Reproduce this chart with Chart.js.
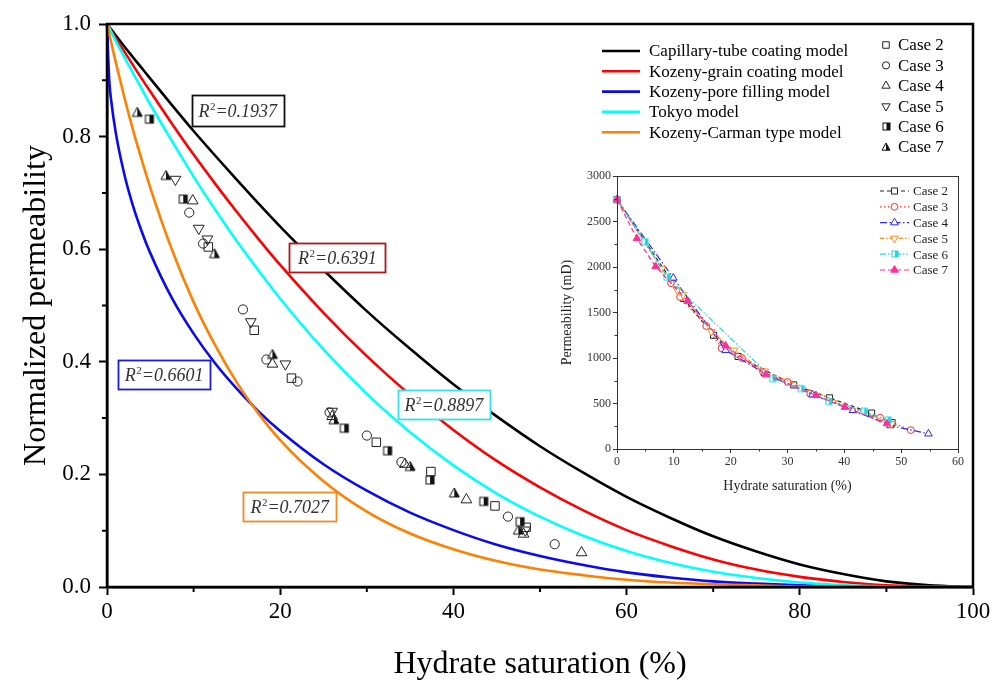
<!DOCTYPE html>
<html lang="en">
<head>
<meta charset="utf-8">
<title>Normalized permeability vs hydrate saturation</title>
<script src="https://cdn.jsdelivr.net/npm/chart.js@4.4.1/dist/chart.umd.min.js"></script>
<style>
  html, body { margin: 0; padding: 0; background: #fff; }
  #stage { position: relative; width: 1003px; height: 686px; overflow: hidden; background: #fff; }
  #mainChart { position: absolute; left: 0; top: 0; }
  #insetChart { position: absolute; left: 540px; top: 160px; }
</style>
</head>
<body>
<div id="stage">
  <canvas id="mainChart" width="1003" height="686"></canvas>
  <canvas id="insetChart" width="430" height="340"></canvas>
</div>
<script>
// ---------------- model curves (normalized permeability vs hydrate saturation, %) ----------------
const satGrid       = [0, 0.25, 0.5, 1, 2, 3, 4, 5, 7.5, 10, 12.5, 15, 17.5, 20, 25, 30, 35, 40, 45, 50, 55, 60, 65, 70, 75, 80, 85, 90, 95, 100];
const capillaryTube = [1, 0.995, 0.990, 0.980, 0.960, 0.941, 0.922, 0.903, 0.856, 0.810, 0.766, 0.723, 0.681, 0.640, 0.563, 0.490, 0.423, 0.360, 0.303, 0.250, 0.203, 0.160, 0.123, 0.090, 0.063, 0.040, 0.023, 0.010, 0.003, 0];
const kozenyGrain   = [1, 0.994, 0.988, 0.975, 0.951, 0.927, 0.903, 0.880, 0.823, 0.768, 0.716, 0.666, 0.618, 0.572, 0.487, 0.410, 0.341, 0.279, 0.224, 0.177, 0.136, 0.101, 0.073, 0.049, 0.031, 0.018, 0.009, 0.003, 0.001, 0];
const kozenyPore    = [1, 0.902, 0.862, 0.808, 0.733, 0.677, 0.632, 0.593, 0.513, 0.450, 0.397, 0.352, 0.312, 0.277, 0.218, 0.171, 0.132, 0.101, 0.075, 0.055, 0.039, 0.026, 0.017, 0.010, 0.006, 0.003, 0.001, 0.000, 0, 0];
const tokyo         = [1, 0.993, 0.985, 0.970, 0.941, 0.913, 0.885, 0.857, 0.792, 0.729, 0.670, 0.614, 0.562, 0.512, 0.422, 0.343, 0.275, 0.216, 0.166, 0.125, 0.091, 0.064, 0.043, 0.027, 0.016, 0.008, 0.003, 0.001, 0.000, 0];
const kozenyCarman  = [1, 0.983, 0.966, 0.933, 0.870, 0.812, 0.759, 0.709, 0.599, 0.506, 0.429, 0.363, 0.308, 0.261, 0.188, 0.134, 0.095, 0.067, 0.046, 0.031, 0.021, 0.013, 0.008, 0.005, 0.003, 0.001, 0.001, 0.000, 0, 0];
const modelNames = ['Capillary-tube coating model', 'Kozeny-grain coating model', 'Kozeny-pore filling model', 'Tokyo model', 'Kozeny-Carman type model'];
const r2Values   = ['0.1937', '0.6391', '0.6601', '0.8897', '0.7027'];

// ---------------- measured cases, normalized ----------------
const case2Sat  = [11.7, 17.0, 21.3, 31.1, 37.4, 44.8, 48.4];
const case2Norm = [0.604, 0.456, 0.371, 0.257, 0.205, 0.144, 0.106];
const case3Sat  = [9.5, 11.1, 15.7, 18.4, 22.0, 25.7, 30.0, 34.0, 46.3, 51.7];
const case3Norm = [0.665, 0.610, 0.493, 0.404, 0.365, 0.310, 0.269, 0.222, 0.125, 0.076];
const case4Sat  = [9.9, 19.1, 26.0, 34.4, 41.5, 48.1, 54.8];
const case4Norm = [0.686, 0.396, 0.303, 0.218, 0.155, 0.094, 0.061];
const case5Sat  = [7.9, 10.6, 11.6, 16.6, 20.6, 26.0, 48.3];
const case5Norm = [0.724, 0.637, 0.618, 0.471, 0.396, 0.312, 0.101];
const case6Sat  = [4.9, 8.8, 27.4, 32.4, 37.3, 43.5, 47.7];
const case6Norm = [0.831, 0.689, 0.282, 0.242, 0.190, 0.152, 0.116];
const case7Sat  = [3.5, 6.8, 12.4, 19.1, 26.2, 35.0, 40.1, 47.5];
const case7Norm = [0.844, 0.732, 0.593, 0.414, 0.298, 0.215, 0.168, 0.102];
const caseNames = ['Case 2', 'Case 3', 'Case 4', 'Case 5', 'Case 6', 'Case 7'];

// ---------------- measured cases, permeability (mD) ----------------
const inset2Sat  = [0, 11.7, 17.0, 21.3, 31.1, 37.4, 44.8, 48.4];
const inset2Perm = [2740, 1655, 1250, 1017, 704, 562, 395, 290];
const inset3Sat  = [0, 9.5, 11.1, 15.7, 18.4, 22.0, 25.7, 30.0, 34.0, 46.3, 51.7];
const inset3Perm = [2740, 1822, 1671, 1351, 1107, 1000, 849, 737, 608, 343, 208];
const inset4Sat  = [0, 9.9, 19.1, 26.0, 34.4, 41.5, 48.1, 54.8];
const inset4Perm = [2740, 1880, 1085, 830, 597, 425, 258, 167];
const inset5Sat  = [0, 7.9, 10.6, 11.6, 16.6, 20.6, 26.0, 48.3];
const inset5Perm = [2740, 1984, 1745, 1693, 1291, 1085, 855, 277];
const inset6Sat  = [0, 4.9, 8.8, 27.4, 32.4, 37.3, 43.5, 47.7];
const inset6Perm = [2740, 2277, 1888, 773, 663, 521, 416, 318];
const inset7Sat  = [0, 3.5, 6.8, 12.4, 19.1, 26.2, 35.0, 40.1, 47.5];
const inset7Perm = [2740, 2313, 2006, 1625, 1134, 817, 589, 460, 279];

// ---------------- ticks ----------------
const mainXTicks  = [0, 20, 40, 60, 80, 100];
const mainXMinor  = [10, 30, 50, 70, 90];
const mainYTicks  = [0, 0.2, 0.4, 0.6, 0.8, 1.0];
const mainYMinor  = [0.1, 0.3, 0.5, 0.7, 0.9];
const insetXTicks = [0, 10, 20, 30, 40, 50, 60];
const insetXMinor = [5, 15, 25, 35, 45, 55];
const insetYTicks = [0, 500, 1000, 1500, 2000, 2500, 3000];
const insetYMinor = [250, 750, 1250, 1750, 2250, 2750];

// ---------------- styling ----------------
const SERIF = "'Liberation Serif', 'Times New Roman', serif";
const modelColors = ['#000000', '#ff0000', '#0a0af0', '#00ffff', '#ff8000'];
const r2BoxStyle = [
  { sat: 15.1, norm: 0.846, w: 92, h: 31, color: '#111111' },
  { sat: 26.6, norm: 0.585, w: 96, h: 29, color: '#b01818' },
  { sat: 6.6,  norm: 0.377, w: 92, h: 29, color: '#1c1cd0' },
  { sat: 38.9, norm: 0.324, w: 92, h: 29, color: '#30e2e8' },
  { sat: 21.1, norm: 0.143, w: 93, h: 29, color: '#f08a24' }
];
const insetColors = ['#222222', '#ff2a2a', '#2a2aff', '#ff8c1a', '#1ed8e0', '#ff2e98'];
const insetDashes = [[4, 3], [1.5, 2.5], [7, 2.5, 1.5, 2.5], [4, 2, 1.5, 2], [6, 2, 1.5, 2, 1.5, 2], [5, 3]];

function pts(xs, ys) { return xs.map((x, i) => ({ x: x, y: ys[i] })); }

// half-filled marker images (outline + right half filled)
function halfSquareMark(side, stroke, fill, lw) {
  const pad = 2, c = document.createElement('canvas');
  c.width = c.height = Math.ceil(side + pad * 2);
  const g = c.getContext('2d');
  g.fillStyle = '#fff'; g.fillRect(pad, pad, side, side);
  g.fillStyle = fill; g.fillRect(pad + side / 2, pad, side / 2, side);
  g.strokeStyle = stroke; g.lineWidth = lw; g.strokeRect(pad, pad, side, side);
  return c;
}
function halfTriangleMark(w, stroke, fill, lw) {
  const pad = 2, h = w * 0.9, c = document.createElement('canvas');
  c.width = Math.ceil(w + pad * 2); c.height = Math.ceil(h + pad * 2);
  const g = c.getContext('2d');
  g.beginPath(); g.moveTo(pad + w / 2, pad); g.lineTo(pad + w, pad + h); g.lineTo(pad, pad + h); g.closePath();
  g.fillStyle = '#fff'; g.fill();
  g.save(); g.clip(); g.fillStyle = fill; g.fillRect(pad + w / 2, 0, w, c.height); g.restore();
  g.strokeStyle = stroke; g.lineWidth = lw; g.stroke();
  return c;
}

const mainMarks = [
  { style: 'rect', radius: 6, rotation: 0 },
  { style: 'circle', radius: 4.6, rotation: 0 },
  { style: 'triangle', radius: 6.2, rotation: 0 },
  { style: 'triangle', radius: 6.2, rotation: 180 },
  { style: halfSquareMark(8, '#111', '#111', 1), radius: 5, rotation: 0 },
  { style: halfTriangleMark(10, '#111', '#111', 1), radius: 5, rotation: 0 }
];
const legendMarks = [
  { style: 'rect', radius: 4.6, rotation: 0 },
  { style: 'circle', radius: 3.6, rotation: 0 },
  { style: 'triangle', radius: 4.8, rotation: 0 },
  { style: 'triangle', radius: 4.8, rotation: 180 },
  { style: halfSquareMark(7, '#111', '#111', 1), radius: 4, rotation: 0 },
  { style: halfTriangleMark(8, '#111', '#111', 1), radius: 4, rotation: 0 }
];
const insetMarks = [
  { style: 'rect', radius: 4.3, rotation: 0, fill: '#fff' },
  { style: 'circle', radius: 3.4, rotation: 0, fill: '#fff' },
  { style: 'triangle', radius: 4.4, rotation: 0, fill: '#fff' },
  { style: 'triangle', radius: 4.4, rotation: 180, fill: '#fff' },
  { style: halfSquareMark(6, insetColors[4], insetColors[4], 1), radius: 4, rotation: 0, fill: '#fff' },
  { style: 'triangle', radius: 4.4, rotation: 0, fill: insetColors[5] }
];

// small marker painter shared by the two legends
function paintMark(ctx, mark, x, y, stroke, fill) {
  const s = mark.style, r = mark.radius;
  if (typeof s === 'object') { ctx.drawImage(s, Math.round(x - s.width / 2), Math.round(y - s.height / 2)); return; }
  ctx.save();
  ctx.translate(x, y);
  ctx.rotate(mark.rotation * Math.PI / 180);
  ctx.beginPath();
  if (s === 'rect') { const h = r * Math.SQRT1_2; ctx.rect(-h, -h, 2 * h, 2 * h); }
  else if (s === 'circle') { ctx.arc(0, 0, r, 0, Math.PI * 2); }
  else {
    let a = 0;
    ctx.moveTo(Math.sin(a) * r, -Math.cos(a) * r); a += 2 * Math.PI / 3;
    ctx.lineTo(Math.sin(a) * r, -Math.cos(a) * r); a += 2 * Math.PI / 3;
    ctx.lineTo(Math.sin(a) * r, -Math.cos(a) * r); ctx.closePath();
  }
  ctx.fillStyle = fill; ctx.fill();
  ctx.strokeStyle = stroke; ctx.lineWidth = 1; ctx.stroke();
  ctx.restore();
}

// ---------------- main chart ----------------
const modelSeries = [capillaryTube, kozenyGrain, kozenyPore, tokyo, kozenyCarman];
const caseSeries = [[case2Sat, case2Norm], [case3Sat, case3Norm], [case4Sat, case4Norm], [case5Sat, case5Norm], [case6Sat, case6Norm], [case7Sat, case7Norm]];

const modelDatasets = modelSeries.map((vals, i) => ({
  label: modelNames[i],
  data: pts(satGrid, vals),
  showLine: true,
  borderColor: modelColors[i],
  borderWidth: 2.6,
  pointRadius: 0,
  cubicInterpolationMode: 'monotone',
  clip: 4,
  order: 10 - i
}));
const caseDatasets = caseSeries.map(([s, v], i) => ({
  label: caseNames[i],
  data: pts(s, v),
  showLine: false,
  pointStyle: mainMarks[i].style,
  pointRadius: mainMarks[i].radius,
  rotation: mainMarks[i].rotation,
  pointBorderColor: '#222',
  pointBorderWidth: 1,
  pointBackgroundColor: 'rgba(255,255,255,0)',
  order: 1
}));

const mainLegend = { lineX0: 602, lineX1: 640, textX: 649, modelY0: 51, modelDy: 20.3, markX: 886, caseTextX: 898, caseY0: 45, caseDy: 20.4 };

const mainDecor = {
  id: 'mainDecor',
  afterDatasetsDraw(chart) {
    const ctx = chart.ctx, xs = chart.scales.x, ys = chart.scales.y;
    ctx.save();
    r2BoxStyle.forEach((b, i) => {
      const cx = xs.getPixelForValue(b.sat), cy = ys.getPixelForValue(b.norm);
      const x0 = Math.round(cx - b.w / 2) + 0.5, y0 = Math.round(cy - b.h / 2) + 0.5;
      ctx.fillStyle = '#fff'; ctx.fillRect(x0, y0, b.w, b.h);
      ctx.strokeStyle = b.color; ctx.lineWidth = 1.8; ctx.strokeRect(x0, y0, b.w, b.h);
      const big = 'italic 18px ' + SERIF, small = '11px ' + SERIF;
      ctx.font = big; const wR = ctx.measureText('R').width; const wRest = ctx.measureText('=' + r2Values[i]).width;
      ctx.font = small; const w2 = ctx.measureText('2').width;
      let tx = cx - (wR + w2 + 0.5 + wRest) / 2; const base = cy + 6.5;
      ctx.fillStyle = '#333'; ctx.textBaseline = 'alphabetic'; ctx.textAlign = 'left';
      ctx.font = big; ctx.fillText('R', tx, base); tx += wR + 0.5;
      ctx.font = small; ctx.fillText('2', tx, base - 7); tx += w2;
      ctx.font = big; ctx.fillText('=' + r2Values[i], tx, base);
    });
    ctx.restore();
  },
  afterDraw(chart) {
    const ctx = chart.ctx, a = chart.chartArea, xs = chart.scales.x, ys = chart.scales.y;
    ctx.save();
    // frame
    ctx.strokeStyle = '#000'; ctx.lineWidth = 2.5;
    ctx.strokeRect(a.left, a.top, a.right - a.left, a.bottom - a.top);
    // minor ticks
    ctx.lineWidth = 2;
    ctx.beginPath();
    mainXMinor.forEach(v => { const p = xs.getPixelForValue(v); ctx.moveTo(p, a.bottom); ctx.lineTo(p, a.bottom + 5); });
    mainYMinor.forEach(v => { const p = ys.getPixelForValue(v); ctx.moveTo(a.left, p); ctx.lineTo(a.left - 5, p); });
    ctx.stroke();
    // legend: model curves
    const L = mainLegend;
    ctx.font = '17px ' + SERIF; ctx.textBaseline = 'middle'; ctx.textAlign = 'left';
    modelNames.forEach((name, i) => {
      const y = L.modelY0 + i * L.modelDy;
      ctx.strokeStyle = modelColors[i]; ctx.lineWidth = 2.6;
      ctx.beginPath(); ctx.moveTo(L.lineX0, y); ctx.lineTo(L.lineX1, y); ctx.stroke();
      ctx.fillStyle = '#000'; ctx.fillText(name, L.textX, y + 1);
    });
    // legend: cases
    caseNames.forEach((name, i) => {
      const y = L.caseY0 + i * L.caseDy;
      paintMark(ctx, legendMarks[i], L.markX, y, '#222', 'rgba(255,255,255,0)');
      ctx.fillStyle = '#000'; ctx.fillText(name, L.caseTextX, y + 1);
    });
    ctx.restore();
  }
};

new Chart(document.getElementById('mainChart'), {
  type: 'scatter',
  data: { datasets: [...caseDatasets, ...modelDatasets] },
  options: {
    responsive: false, maintainAspectRatio: false, animation: false, devicePixelRatio: 1, events: [],
    layout: { padding: { left: 0, top: 24, right: 30, bottom: 0 } },
    plugins: { legend: { display: false }, tooltip: { enabled: false } },
    scales: {
      x: {
        type: 'linear', position: 'bottom', min: 0, max: 100,
        afterFit: s => { s.height = 99; },
        afterBuildTicks: s => { s.ticks = mainXTicks.map(v => ({ value: v })); },
        ticks: { font: { family: SERIF, size: 23 }, color: '#000', padding: 3, maxRotation: 0, autoSkip: false, callback: v => String(v) },
        grid: { drawOnChartArea: false, drawTicks: true, tickLength: 8, tickWidth: 2, tickColor: '#000', color: '#000' },
        border: { display: true, width: 2.5, color: '#000' },
        title: { display: true, text: 'Hydrate saturation (%)', color: '#000', font: { family: SERIF, size: 32 }, padding: { top: 0, bottom: 2 } }
      },
      y: {
        type: 'linear', position: 'left', min: 0, max: 1,
        afterFit: s => { s.width = 107; },
        afterBuildTicks: s => { s.ticks = mainYTicks.map(v => ({ value: v })); },
        ticks: { font: { family: SERIF, size: 23 }, color: '#000', padding: 8, autoSkip: false, callback: v => Number(v).toFixed(1) },
        grid: { drawOnChartArea: false, drawTicks: true, tickLength: 8, tickWidth: 2, tickColor: '#000', color: '#000' },
        border: { display: true, width: 2.5, color: '#000' },
        title: { display: true, text: 'Normalized permeability', color: '#000', font: { family: SERIF, size: 32 }, padding: { top: 17, bottom: 0 } }
      }
    }
  },
  plugins: [mainDecor]
});

// ---------------- inset chart ----------------
const insetSeries = [[inset2Sat, inset2Perm], [inset3Sat, inset3Perm], [inset4Sat, inset4Perm], [inset5Sat, inset5Perm], [inset6Sat, inset6Perm], [inset7Sat, inset7Perm]];
const insetDatasets = insetSeries.map(([s, k], i) => ({
  label: caseNames[i],
  data: pts(s, k),
  showLine: true,
  borderColor: insetColors[i],
  borderWidth: 1.2,
  borderDash: insetDashes[i],
  tension: 0,
  pointStyle: insetMarks[i].style,
  pointRadius: insetMarks[i].radius,
  rotation: insetMarks[i].rotation,
  pointBorderColor: insetColors[i],
  pointBorderWidth: 1,
  pointBackgroundColor: insetMarks[i].fill,
  clip: 5,
  order: 6 - i
}));

const insetLegend = { lineX0: 340, lineX1: 369, markX: 354.5, textX: 373, y0: 31, dy: 15.8 };

const insetDecor = {
  id: 'insetDecor',
  afterDraw(chart) {
    const ctx = chart.ctx, a = chart.chartArea, xs = chart.scales.x, ys = chart.scales.y;
    ctx.save();
    ctx.strokeStyle = '#333'; ctx.lineWidth = 1;
    ctx.strokeRect(Math.round(a.left) + 0.5, Math.round(a.top) + 0.5, Math.round(a.right - a.left), Math.round(a.bottom - a.top));
    ctx.beginPath();
    insetXMinor.forEach(v => { const p = Math.round(xs.getPixelForValue(v)) + 0.5; ctx.moveTo(p, a.bottom); ctx.lineTo(p, a.bottom + 2.5); });
    insetYMinor.forEach(v => { const p = Math.round(ys.getPixelForValue(v)) + 0.5; ctx.moveTo(a.left, p); ctx.lineTo(a.left - 2.5, p); });
    ctx.stroke();
    const L = insetLegend;
    ctx.font = '13px ' + SERIF; ctx.textBaseline = 'middle'; ctx.textAlign = 'left';
    caseNames.forEach((name, i) => {
      const y = L.y0 + i * L.dy;
      ctx.strokeStyle = insetColors[i]; ctx.lineWidth = 1.2; ctx.setLineDash(insetDashes[i]);
      ctx.beginPath(); ctx.moveTo(L.lineX0, y); ctx.lineTo(L.lineX1, y); ctx.stroke();
      ctx.setLineDash([]);
      paintMark(ctx, insetMarks[i], L.markX, y, insetColors[i], insetMarks[i].fill);
      ctx.fillStyle = '#222'; ctx.fillText(name, L.textX, y + 1);
    });
    ctx.restore();
  }
};

new Chart(document.getElementById('insetChart'), {
  type: 'scatter',
  data: { datasets: insetDatasets },
  options: {
    responsive: false, maintainAspectRatio: false, animation: false, devicePixelRatio: 1, events: [],
    layout: { padding: { left: 0, top: 16, right: 12, bottom: 0 } },
    plugins: { legend: { display: false }, tooltip: { enabled: false } },
    scales: {
      x: {
        type: 'linear', position: 'bottom', min: 0, max: 60,
        afterFit: s => { s.height = 51; },
        afterBuildTicks: s => { s.ticks = insetXTicks.map(v => ({ value: v })); },
        ticks: { font: { family: SERIF, size: 12 }, color: '#333', padding: 2, maxRotation: 0, autoSkip: false, callback: v => String(v) },
        grid: { drawOnChartArea: false, drawTicks: true, tickLength: 4, tickWidth: 1, tickColor: '#333', color: '#333' },
        border: { display: true, width: 1, color: '#333' },
        title: { display: true, text: 'Hydrate saturation (%)', color: '#222', font: { family: SERIF, size: 14 }, padding: { top: 0, bottom: 5 } }
      },
      y: {
        type: 'linear', position: 'left', min: 0, max: 3000,
        afterFit: s => { s.width = 77; },
        afterBuildTicks: s => { s.ticks = insetYTicks.map(v => ({ value: v })); },
        ticks: { font: { family: SERIF, size: 12 }, color: '#333', padding: 2, autoSkip: false, callback: v => String(v) },
        grid: { drawOnChartArea: false, drawTicks: true, tickLength: 4, tickWidth: 1, tickColor: '#333', color: '#333' },
        border: { display: true, width: 1, color: '#333' },
        title: { display: true, text: 'Permeability (mD)', color: '#222', font: { family: SERIF, size: 14 }, padding: { top: 19, bottom: 0 } }
      }
    }
  },
  plugins: [insetDecor]
});
</script>
</body>
</html>
